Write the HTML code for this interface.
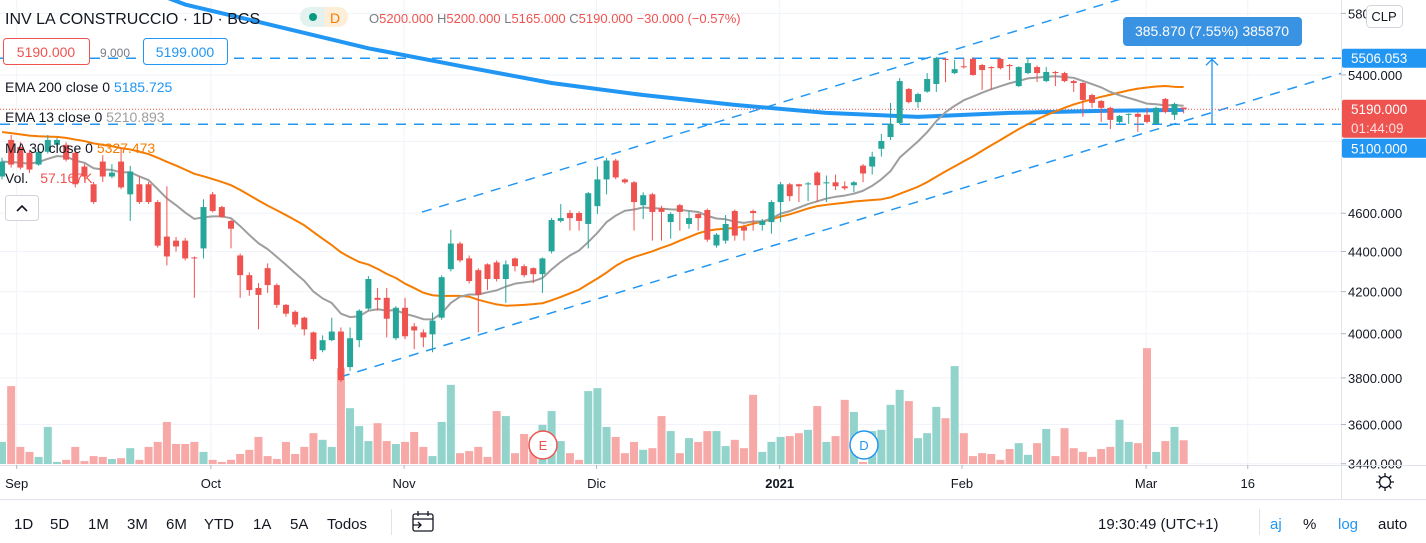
<!DOCTYPE html>
<html><head><meta charset="utf-8">
<style>
html,body{margin:0;padding:0;background:#fff;}
svg{display:block;font-family:"Liberation Sans",sans-serif;}
</style></head>
<body>
<svg id="chart" width="1426" height="543" viewBox="0 0 1426 543" xmlns="http://www.w3.org/2000/svg">
<defs><clipPath id="pane"><rect x="0" y="0" width="1341" height="465"/></clipPath></defs>
<rect x="0" y="0" width="1426" height="543" fill="#fff"/>
<g id="grid"></g>
<g id="vol" clip-path="url(#pane)"></g>
<g id="draw" clip-path="url(#pane)"></g>
<g id="lines" clip-path="url(#pane)"></g>
<g id="candles" clip-path="url(#pane)"></g>
<g id="axis"></g>
<g id="taxis"></g>

<g font-size="13">
<text x="5" y="24" font-size="16" fill="#131722">INV LA CONSTRUCCIO · 1D · BCS</text>
<rect x="300" y="7" width="48" height="20" rx="10" fill="#e3f2ef"/>
<rect x="324" y="7" width="24" height="20" rx="10" fill="#fdeed9"/>
<rect x="324" y="7" width="10" height="20" fill="#fdeed9"/>
<circle cx="313" cy="17" r="4" fill="#089981"/>
<text x="330" y="23" font-size="14" fill="#f57c00">D</text>
<text x="369" y="23"><tspan fill="#787b86">O</tspan><tspan fill="#ef5350">5200.000 </tspan><tspan fill="#787b86">H</tspan><tspan fill="#ef5350">5200.000 </tspan><tspan fill="#787b86">L</tspan><tspan fill="#ef5350">5165.000 </tspan><tspan fill="#787b86">C</tspan><tspan fill="#ef5350">5190.000 −30.000 (−0.57%)</tspan></text>
<rect x="3.5" y="38.5" width="86" height="26" rx="3" fill="#fff" stroke="#ef5350"/>
<text x="46" y="57" font-size="14" fill="#ef5350" text-anchor="middle">5190.000</text>
<text x="100" y="57" font-size="12" fill="#787b86">9.000</text>
<rect x="143.5" y="38.5" width="84" height="26" rx="3" fill="#fff" stroke="#2196f3"/>
<text x="185" y="57" font-size="14" fill="#2196f3" text-anchor="middle">5199.000</text>
<text x="5" y="92" font-size="14" fill="#131722">EMA 200 close 0 <tspan fill="#2196f3">5185.725</tspan></text>
<text x="5" y="122" font-size="14" fill="#131722">EMA 13 close 0 <tspan fill="#9e9e9e">5210.893</tspan></text>
<text x="5" y="153" font-size="14" fill="#131722">MA 30 close 0 <tspan fill="#f57c00">5327.473</tspan></text>
<text x="5" y="183" font-size="14" fill="#131722">Vol. <tspan fill="#ef5350" dx="8">57.167K</tspan></text>
<rect x="5.5" y="195.5" width="33" height="25" rx="3" fill="#fff" stroke="#d1d4dc"/>
<path d="M17 211 l5 -5 l5 5" fill="none" stroke="#131722" stroke-width="1.6"/>
</g>

<g>
<rect x="1123" y="17" width="179" height="29" rx="4" fill="#3a92e2"/>
<text x="1212" y="36" font-size="14" fill="#fff" text-anchor="middle">385.870 (7.55%) 385870</text>
</g>
<g>
<rect x="1366.5" y="5.5" width="36" height="22" rx="4" fill="#fff" stroke="#d1d4dc"/>
<text x="1384" y="21" font-size="13" fill="#131722" text-anchor="middle">CLP</text>
</g>

<g><circle cx="543" cy="445" r="14" fill="#fff" stroke="#ef5350" stroke-width="1.5"/><text x="543" y="450" font-size="13" fill="#ef5350" text-anchor="middle">E</text></g>
<g><circle cx="864" cy="445" r="14" fill="#fff" stroke="#2196f3" stroke-width="1.5"/><text x="864" y="450" font-size="13" fill="#2196f3" text-anchor="middle">D</text></g>

<g font-size="15" fill="#131722">
<line x1="0" y1="499.5" x2="1426" y2="499.5" stroke="#e0e3eb"/>
<text x="14" y="529">1D</text>
<text x="50" y="529">5D</text>
<text x="88" y="529">1M</text>
<text x="127" y="529">3M</text>
<text x="166" y="529">6M</text>
<text x="204" y="529">YTD</text>
<text x="253" y="529">1A</text>
<text x="290" y="529">5A</text>
<text x="327" y="529">Todos</text>
<line x1="391.5" y1="509" x2="391.5" y2="535" stroke="#e0e3eb"/>
<g fill="none" stroke="#131722" stroke-width="1.3"><rect x="413" y="514" width="20" height="17" rx="2"/><line x1="413" y1="519" x2="433" y2="519"/><line x1="418" y1="511" x2="418" y2="516"/><line x1="428" y1="511" x2="428" y2="516"/><path d="M413 525 h8 m-3 -3 l3 3 l-3 3"/></g>
<text x="1098" y="529">19:30:49 (UTC+1)</text>
<line x1="1259.5" y1="509" x2="1259.5" y2="535" stroke="#e0e3eb"/>
<text x="1270" y="529" fill="#2196f3">aj</text>
<text x="1303" y="529">%</text>
<text x="1338" y="529" fill="#2196f3">log</text>
<text x="1378" y="529">auto</text>
</g>
</svg>

<script>
const opens=[4800,5008,4968,4934,4867,4940,4980,4980,4934,4856,4757,4884,4800,4884,4702,4757,4757,4660,4477,4456,4456,4370,4416,4702,4633,4559,4380,4281,4218,4316,4232,4136,4103,4075,4006,3924,3970,4010,3848,3970,4118,4170,4170,3979,4122,4034,4006,3997,4075,4311,4441,4365,4306,4335,4345,4262,4365,4326,4316,4286,4401,4559,4601,4601,4543,4638,4784,4890,4784,4768,4643,4702,4627,4553,4643,4543,4596,4617,4431,4456,4612,4528,4612,4538,4553,4660,4757,4757,4757,4822,4762,4768,4746,4752,4861,4856,4957,5025,5108,5313,5233,5297,5344,5502,5412,5455,5502,5463,5450,5502,5463,5331,5412,5450,5362,5419,5412,5362,5350,5276,5240,5198,5114,5156,5162,5156,5102,5252,5156,5200];
const highs=[4906,5037,4997,4950,4960,5037,5020,4995,4960,4870,4770,4920,4870,4960,4860,4800,4770,4670,4746,4475,4470,4375,4675,4715,4640,4565,4390,4295,4242,4340,4240,4140,4110,4080,4010,3992,4075,4029,4029,4115,4276,4218,4218,4130,4170,4050,4020,4099,4280,4513,4450,4380,4315,4340,4355,4355,4370,4335,4320,4370,4575,4649,4615,4610,4715,4856,4905,4900,4790,4775,4713,4710,4640,4605,4650,4612,4600,4625,4495,4590,4620,4540,4620,4570,4670,4770,4765,4760,4770,4830,4806,4811,4773,4775,4870,4940,5043,5228,5381,5320,5290,5412,5515,5508,5495,5508,5510,5470,5455,5508,5470,5455,5508,5460,5450,5425,5420,5370,5355,5285,5245,5205,5155,5165,5170,5198,5205,5258,5230,5200];
const lows=[4784,4850,4839,4820,4860,4930,4970,4885,4740,4790,4650,4770,4790,4730,4559,4650,4650,4420,4330,4400,4355,4170,4365,4605,4575,4416,4170,4180,4020,4194,4122,4080,4030,3992,3875,3915,3965,3782,3830,3938,4110,4108,3983,3970,3975,3929,3938,3915,4065,4300,4345,4240,4006,4208,4250,4146,4300,4270,4242,4194,4390,4550,4508,4508,4416,4596,4702,4785,4760,4508,4569,4456,4456,4466,4508,4518,4508,4450,4420,4440,4456,4456,4508,4508,4492,4553,4665,4660,4665,4660,4660,4725,4725,4713,4768,4811,4912,5008,5100,5225,5198,5290,5295,5356,5405,5440,5395,5307,5307,5435,5369,5325,5405,5356,5355,5331,5355,5295,5144,5198,5114,5072,5105,5102,5055,5105,5095,5165,5126,5165];
const closes=[4884,4867,4850,4839,4940,5008,5008,4895,4757,4800,4660,4800,4822,4740,4828,4660,4660,4430,4375,4426,4365,4365,4633,4612,4580,4518,4281,4208,4184,4232,4136,4094,4043,4020,3884,3970,4010,3790,3979,4108,4262,4160,4070,4122,3988,4015,3983,4061,4271,4441,4355,4252,4184,4262,4262,4335,4326,4281,4286,4365,4564,4574,4574,4559,4708,4784,4890,4795,4768,4660,4697,4607,4607,4596,4607,4574,4574,4461,4487,4543,4482,4508,4601,4559,4660,4757,4692,4746,4762,4752,4768,4746,4735,4768,4817,4912,5002,5102,5362,5233,5282,5375,5508,5495,5437,5450,5400,5431,5443,5443,5456,5450,5475,5412,5419,5412,5362,5350,5246,5228,5198,5126,5150,5162,5144,5114,5198,5174,5222,5190];
const volumes=[53,187,41,29,17,89,5,10,41,7,19,17,12,14,38,10,41,53,101,48,48,53,29,10,5,10,24,34,65,19,12,53,24,41,74,58,41,230,134,91,55,98,55,48,53,77,41,19,101,190,26,31,41,17,127,115,26,72,65,94,127,55,26,10,175,182,89,65,26,53,34,38,115,79,26,62,53,79,79,43,58,38,166,29,53,65,67,74,82,139,53,67,154,125,5,79,82,142,178,151,62,74,137,110,235,74,19,26,24,10,36,50,22,50,84,19,86,38,29,17,36,41,106,53,50,278,29,55,89,57];
const ema200Idx=[8,20,30,40,50,60,70,80,90,100,110,120,129];
const ema200Vals=[6150,5860,5714,5570,5457,5350,5276,5216,5168,5144,5168,5180,5186];
const ma30Seed=5060;
const priceTicks=[5800,5400,4600,4400,4200,4000,3800,3600,3440];
const gridPrices=[5800,5400,5000,4600,4400,4200,4000,3800,3600,3440];
const timeLabels=["Sep","Oct","Nov","Dic","2021","Feb","Mar","16"];
const timeIdx=[1.6,22.8,43.9,64.9,84.9,104.8,124.9,136];
const hLevels=[5506.053,5100];
const lastPrice=5190;
const upperChannel=[[45.85,4606],[122,5895]];
const lowerChannel=[[36.9,3804],[145.6,5400]];

const NS="http://www.w3.org/2000/svg";
const UP="#26a69a",DN="#ef5350",UPV="#92d3cc",DNV="#f7a9a7";
const PANE_R=1341,PANE_B=465;
const xAt=i=>2+i*9.16;
const yP=p=>75+862*Math.log(5400/p);
const yV=v=>464-v/2.4;
function mk(parent,tag,attrs){const e=document.createElementNS(NS,tag);for(const a in attrs)e.setAttribute(a,attrs[a]);parent.appendChild(e);return e;}
const G=id=>document.getElementById(id);

const grid=G('grid');
gridPrices.forEach(p=>{const l=mk(grid,'line',{x1:0,x2:PANE_R,y1:yP(p),y2:yP(p),stroke:'#f0f3fa'});

});
timeIdx.forEach(i=>{const l=mk(grid,'line',{x1:xAt(i),x2:xAt(i),y1:0,y2:PANE_B,stroke:'#f0f3fa'});

});

const vg=G('vol');
volumes.forEach((v,i)=>{const up=closes[i]>=opens[i];
const r=mk(vg,'rect',{x:xAt(i)-4,y:yV(v),width:8,height:464-yV(v),fill:up?UPV:DNV});

});

const dg=G('draw');
hLevels.forEach(p=>{const l=mk(dg,'line',{x1:0,x2:PANE_R,y1:yP(p),y2:yP(p),stroke:'#2196f3','stroke-width':1.5,'stroke-dasharray':'10 8'});

});
[upperChannel,lowerChannel].forEach(ch=>{const a=ch[0],b=ch[1];const x1=xAt(a[0]),y1=yP(a[1]),x2=xAt(b[0]),y2=yP(b[1]);
const s=(y2-y1)/(x2-x1);const xe=PANE_R;const ye=y1+s*(xe-x1);
const l=mk(dg,'line',{x1:x1,y1:y1,x2:xe,y2:ye,stroke:'#2196f3','stroke-width':1.5,'stroke-dasharray':'10 8'});

});
const ar=mk(dg,'path',{d:'M1212 '+yP(hLevels[1])+' V'+(yP(hLevels[0])+1)+' M1206 '+(yP(hLevels[0])+7)+' L1212 '+(yP(hLevels[0])+1)+' L1218 '+(yP(hLevels[0])+7),fill:'none',stroke:'#2196f3','stroke-width':1.3});


const pl=mk(dg,'line',{x1:0,x2:PANE_R,y1:yP(lastPrice),y2:yP(lastPrice),stroke:'#ef5350','stroke-dasharray':'1 2'});



const lg=G('lines');
function poly(pts,color,w,name){const p=mk(lg,'polyline',{points:pts.map(q=>q.join(',')).join(' '),fill:'none',stroke:color,'stroke-width':w,'stroke-linejoin':'round'});

}
poly(ema200Idx.map((i,j)=>[xAt(i),yP(ema200Vals[j])]),'#2196f3',4,'ema200-line');
const ma=[];for(let i=0;i<closes.length;i++){let s=0;for(let j=i-29;j<=i;j++)s+=j>=0?closes[j]:ma30Seed;ma.push(s/30);}
poly(ma.map((v,i)=>[xAt(i),yP(v)]),'#f57c00',2,'ma30-line');
const kk=2/14;let e=closes[0];const em=[];closes.forEach(c=>{e=c*kk+e*(1-kk);em.push(e);});
poly(em.map((v,i)=>[xAt(i),yP(v)]),'#9e9e9e',2,'ema13-line');

const cg=G('candles');
closes.forEach((c,i)=>{const o=opens[i],up=c>=o,col=up?UP:DN,x=xAt(i);
const w=mk(cg,'line',{x1:x,x2:x,y1:yP(highs[i]),y2:yP(lows[i]),stroke:col,'stroke-width':1});


const t=yP(Math.max(o,c)),b=yP(Math.min(o,c));
const r=mk(cg,'rect',{x:x-3,y:t,width:6,height:Math.max(1,b-t),fill:col});

});

const ax=G('axis');
mk(ax,'line',{x1:PANE_R+0.5,x2:PANE_R+0.5,y1:0,y2:499,stroke:'#e0e3eb'});
priceTicks.forEach(p=>{const y=yP(p);
mk(ax,'line',{x1:PANE_R,x2:PANE_R+5,y1:y,y2:y,stroke:'#b2b5be'});
const t=mk(ax,'text',{x:1348,y:y+5,'font-size':13,fill:'#131722'});t.textContent=p.toFixed(3);

});
function badge(y,h,color,lines,name){const g=mk(ax,'g',{});


mk(g,'rect',{x:PANE_R+1,y:y-9.5,width:85,height:h,rx:2,fill:color});
lines.forEach((s,j)=>{const t=mk(g,'text',{x:1351,y:y+5+j*19,'font-size':13.5,fill:j?'#fde0df':'#fff'});t.textContent=s;});}
badge(yP(hLevels[0]),19,'#2196f3',[hLevels[0].toFixed(3)],'level-badge-upper');
badge(yP(lastPrice),38,'#ef5350',[lastPrice.toFixed(3),'01:44:09'],'last-price-badge');
badge(yP(hLevels[1])+24,19,'#2196f3',[hLevels[1].toFixed(3)],'level-badge-lower');

const ta=G('taxis');
mk(ta,'line',{x1:0,x2:1426,y1:465.5,y2:465.5,stroke:'#e0e3eb'});
timeLabels.forEach((s,j)=>{const x=xAt(timeIdx[j]);
mk(ta,'line',{x1:x,x2:x,y1:465,y2:469,stroke:'#b2b5be'});
const t=mk(ta,'text',{x:x,y:488,'font-size':13,fill:'#131722','text-anchor':'middle','font-weight':s==='2021'?'bold':'normal'});t.textContent=s;

});
const gear=mk(ta,'g',{fill:'none',stroke:'#131722','stroke-width':1.3});


mk(gear,'circle',{cx:1385,cy:482,r:5.5});
for(let a=0;a<8;a++){const an=a*Math.PI/4;mk(gear,'line',{x1:1385+Math.cos(an)*6,y1:482+Math.sin(an)*6,x2:1385+Math.cos(an)*9,y2:482+Math.sin(an)*9});}
</script>
</body></html>
